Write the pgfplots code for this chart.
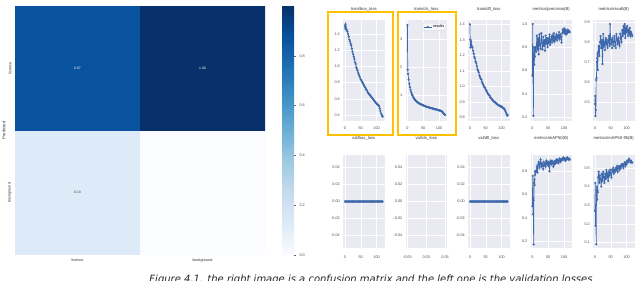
\documentclass[border=0pt]{standalone}
\usepackage{pgfplots}
\pgfplotsset{compat=1.18}
\usepackage{fontspec}
\setmainfont{Liberation Sans}
\newfontfamily\capfont{DejaVu Sans}
\definecolor{sbbg}{RGB}{234,234,242}
\definecolor{sbline}{RGB}{62,104,172}
\definecolor{ybox}{RGB}{255,192,0}
\pgfplotsset{
 /pgf/number format/assume math mode=true,
 sb/.style={
  scale only axis, width=41.5pt, anchor=north west,
  axis background/.style={fill=sbbg},
  axis line style={draw=none},
  tick style={draw=none},
  scaled ticks=false,
  grid=major, major grid style={white, line width=0.45pt},
  xtick={0,50,100}, xmin=-6, xmax=125,
  tick label style={font=\fontsize{3.8}{4}\selectfont, text=black!70, inner sep=0pt},
  xticklabel style={anchor=center, yshift=-7pt},
  yticklabel style={anchor=east, xshift=-3pt},
  title style={font=\fontsize{4.2}{5}\selectfont, text=black!80, at={(0.5,1)}, anchor=base, yshift=3.5pt, inner sep=0pt},
  every axis plot post/.append style={sbline, line width=0.7pt, mark=*, mark size=1.05pt, mark options={fill=sbline, draw=sbline, line width=0.1pt}},
  legend image code/.code={\draw[mark repeat=2,mark phase=2] plot coordinates {(0cm,0cm)(0.15cm,0cm)(0.3cm,0cm)};},
 },
 r1/.style={sb, height=101pt},
 r2/.style={sb, height=93pt, title style={yshift=5.5pt}, xticklabel style={yshift=-2pt}},
 p1/.style={yticklabel style={/pgf/number format/fixed, /pgf/number format/fixed zerofill, /pgf/number format/precision=1}},
 p2/.style={yticklabel style={/pgf/number format/fixed, /pgf/number format/fixed zerofill, /pgf/number format/precision=2}},
}
\begin{document}
\begin{tikzpicture}
\useasboundingbox (0,0) rectangle (640pt,281pt);
\clip (0,0) rectangle (640pt,281pt);

% ---------- confusion matrix ----------
\begin{axis}[at={(15pt,275pt)}, anchor=north west, scale only axis,
  width=250pt, height=249pt,
  xmin=0, xmax=2, ymin=0, ymax=2,
  axis line style={draw=none}, tick style={draw=none},
  xtick={0.5,1.5}, xticklabels={licence,background},
  ytick={0.5,1.5}, yticklabels={background,licence},
  tick label style={font=\fontsize{3.8}{4}\selectfont, text=black!80},
  yticklabel style={rotate=90, anchor=south},
  ylabel={Predicted}, ylabel style={font=\fontsize{4.2}{5}\selectfont, text=black!80, at={(axis description cs:-0.044,0.5)}, anchor=center},
  title={Confusion Matrix}, title style={font=\fontsize{4.6}{5}\selectfont, text=black!85, at={(0.5,1)}, anchor=base, yshift=0.6pt, inner sep=0pt},
  colormap={blues}{rgb255=(250,252,255) rgb255=(222,235,247) rgb255=(198,219,239) rgb255=(158,202,225) rgb255=(107,174,214) rgb255=(66,146,198) rgb255=(33,113,181) rgb255=(8,81,156) rgb255=(8,48,107)},
  point meta min=0, point meta max=1,
  colorbar,
  colorbar style={at={(parent axis.north east)}, anchor=north west, xshift=8.5pt,
    scale only axis, width=12pt, height=249pt,
    ytick={0,0.2,0.4,0.6,0.8}, ytick pos=right, tick align=outside,
    major tick length=2pt, tick style={black!60, line width=0.3pt},
    axis line style={draw=none},
    yticklabel style={font=\fontsize{3.8}{4}\selectfont, text=black!70, /pgf/number format/fixed, /pgf/number format/fixed zerofill, /pgf/number format/precision=1}},
]
\addplot[matrix plot*, mesh/cols=2, point meta=explicit] table[meta=c]{
x y c
0.5 0.5 0.13
1.5 0.5 0.00
0.5 1.5 0.87
1.5 1.5 1.00
};
\addplot[draw=none, mark=none, nodes near coords, point meta=explicit symbolic,
  nodes near coords style={white, font=\fontsize{3.4}{4}\selectfont, anchor=center}] table[meta=l]{
x y l
0.5 1.5 0.87
1.5 1.5 1.00
};
\addplot[draw=none, mark=none, nodes near coords, point meta=explicit symbolic,
  nodes near coords style={black!80, font=\fontsize{3.4}{4}\selectfont, anchor=center}] table[meta=l]{
x y l
0.5 0.5 0.13
};
\end{axis}

% ---------- row 1 ----------
\begin{axis}[r1, p1, at={(343pt,261pt)}, title={train/box\_loss}, ymin=0.326, ymax=1.573, ytick={0.4,0.6,0.8,1.0,1.2,1.4}]
\addplot coordinates {(0,1.50)(1,1.47)(2,1.52)(3,1.49)(4,1.46)(6,1.45)(8,1.43)(10,1.40)(12,1.37)(14,1.33)(16,1.31)(18,1.28)(20,1.26)(22,1.22)(24,1.18)(26,1.15)(28,1.12)(30,1.09)(32,1.05)(34,1.03)(36,0.99)(38,0.97)(40,0.95)(42,0.92)(44,0.90)(46,0.88)(48,0.86)(50,0.84)(52,0.83)(54,0.81)(56,0.80)(58,0.78)(60,0.77)(62,0.75)(64,0.74)(66,0.72)(68,0.71)(70,0.70)(72,0.68)(74,0.67)(76,0.66)(78,0.65)(80,0.64)(82,0.63)(84,0.62)(86,0.61)(88,0.60)(90,0.59)(92,0.58)(94,0.57)(96,0.56)(98,0.55)(100,0.54)(102,0.53)(104,0.53)(106,0.52)(108,0.51)(110,0.48)(112,0.45)(114,0.42)(116,0.40)(118,0.39)(119,0.38)};
\end{axis}

\begin{axis}[r1, at={(405.5pt,261pt)}, title={train/cls\_loss}, ymin=0.07, ymax=3.68, ytick={1,2,3},
  legend style={font=\fontsize{3.8}{4}\selectfont, at={(1,1)}, anchor=north east, xshift=-1pt, yshift=-3pt, fill=sbbg!40!white, draw=black!15, rounded corners=1pt, inner sep=1pt, nodes={inner sep=0.6pt}}]
\addplot coordinates {(0,3.50)(1,1.90)(2,1.75)(4,1.55)(6,1.40)(8,1.28)(10,1.18)(12,1.10)(14,1.03)(16,0.98)(18,0.93)(20,0.89)(22,0.86)(24,0.83)(26,0.80)(28,0.78)(30,0.76)(32,0.74)(34,0.72)(36,0.71)(38,0.69)(40,0.68)(42,0.67)(44,0.66)(46,0.65)(48,0.64)(50,0.63)(52,0.62)(54,0.61)(56,0.60)(58,0.59)(60,0.58)(62,0.575)(64,0.57)(66,0.56)(68,0.555)(70,0.55)(72,0.54)(74,0.535)(76,0.53)(78,0.52)(80,0.515)(82,0.51)(84,0.50)(86,0.495)(88,0.49)(90,0.485)(92,0.48)(94,0.47)(96,0.465)(98,0.46)(100,0.45)(102,0.445)(104,0.44)(106,0.43)(108,0.42)(110,0.40)(112,0.37)(114,0.34)(116,0.32)(118,0.30)(119,0.29)};
\addlegendentry{results}
\end{axis}

\begin{axis}[r1, p1, at={(468pt,261pt)}, title={train/dfl\_loss}, ymin=0.776, ymax=1.428, ytick={0.8,0.9,1.0,1.1,1.2,1.3,1.4}]
\addplot coordinates {(0,1.40)(1,1.30)(2,1.25)(3,1.27)(4,1.29)(6,1.26)(8,1.25)(10,1.23)(12,1.21)(14,1.19)(16,1.18)(18,1.16)(20,1.15)(22,1.13)(24,1.11)(26,1.10)(28,1.09)(30,1.07)(32,1.06)(34,1.05)(36,1.045)(38,1.03)(40,1.02)(42,1.01)(44,1.00)(46,0.995)(48,0.99)(50,0.98)(52,0.97)(54,0.965)(56,0.955)(58,0.95)(60,0.945)(62,0.94)(64,0.93)(66,0.925)(68,0.92)(70,0.915)(72,0.91)(74,0.905)(76,0.90)(78,0.90)(80,0.895)(82,0.89)(84,0.89)(86,0.885)(88,0.88)(90,0.88)(92,0.875)(94,0.875)(96,0.87)(98,0.87)(100,0.87)(102,0.865)(104,0.86)(106,0.86)(108,0.855)(110,0.85)(112,0.84)(114,0.83)(116,0.82)(118,0.81)(119,0.815)};
\end{axis}

\begin{axis}[r1, p1, at={(530.5pt,261pt)}, title={metrics/precision(B)}, ymin=0.166, ymax=1.034, ytick={0.2,0.4,0.6,0.8,1.0}]
\addplot coordinates {(0,0.56)(1,1.00)(2,0.55)(3,0.21)(4,0.70)(5,0.80)(6,0.65)(7,0.78)(8,0.72)(9,0.79)(10,0.80)(12,0.76)(14,0.90)(16,0.78)(18,0.88)(20,0.74)(22,0.91)(24,0.82)(26,0.79)(28,0.92)(30,0.84)(32,0.78)(34,0.89)(36,0.81)(38,0.86)(40,0.77)(42,0.90)(44,0.83)(46,0.88)(48,0.80)(50,0.87)(52,0.84)(54,0.91)(56,0.82)(58,0.86)(60,0.89)(62,0.84)(64,0.90)(66,0.86)(68,0.92)(70,0.85)(72,0.89)(74,0.87)(76,0.91)(78,0.86)(80,0.90)(82,0.88)(84,0.93)(86,0.87)(88,0.91)(90,0.89)(92,0.84)(94,0.92)(96,0.95)(98,0.93)(100,0.96)(102,0.92)(104,0.95)(106,0.91)(108,0.94)(110,0.92)(112,0.95)(114,0.93)(116,0.94)(118,0.93)};
\end{axis}

\begin{axis}[r1, p1, at={(593pt,261pt)}, title={metrics/recall(B)}, ymin=0.405, ymax=0.91, ytick={0.5,0.6,0.7,0.8,0.9}]
\addplot coordinates {(0,0.49)(1,0.53)(2,0.43)(3,0.46)(4,0.61)(5,0.62)(6,0.70)(7,0.72)(8,0.74)(9,0.66)(10,0.75)(12,0.78)(14,0.73)(16,0.80)(18,0.83)(20,0.77)(22,0.81)(24,0.69)(26,0.84)(28,0.78)(30,0.80)(32,0.76)(34,0.82)(36,0.79)(38,0.81)(40,0.77)(42,0.80)(44,0.83)(46,0.78)(48,0.89)(50,0.79)(52,0.81)(54,0.77)(56,0.82)(58,0.80)(60,0.78)(62,0.83)(64,0.80)(66,0.77)(68,0.84)(70,0.81)(72,0.79)(74,0.82)(76,0.80)(78,0.78)(80,0.84)(82,0.82)(84,0.80)(86,0.86)(88,0.83)(90,0.88)(92,0.84)(94,0.89)(96,0.82)(98,0.87)(100,0.85)(102,0.88)(104,0.83)(106,0.86)(108,0.84)(110,0.87)(112,0.83)(114,0.85)(116,0.84)(118,0.83)};
\end{axis}

% ---------- row 2 ----------
\begin{axis}[r2, p2, at={(343pt,126pt)}, title={val/box\_loss}, ymin=-0.055, ymax=0.055, ytick={-0.04,-0.02,0,0.02,0.04}]
\addplot coordinates {(0,0)(2,0)(4,0)(6,0)(8,0)(10,0)(12,0)(14,0)(16,0)(18,0)(20,0)(22,0)(24,0)(26,0)(28,0)(30,0)(32,0)(34,0)(36,0)(38,0)(40,0)(42,0)(44,0)(46,0)(48,0)(50,0)(52,0)(54,0)(56,0)(58,0)(60,0)(62,0)(64,0)(66,0)(68,0)(70,0)(72,0)(74,0)(76,0)(78,0)(80,0)(82,0)(84,0)(86,0)(88,0)(90,0)(92,0)(94,0)(96,0)(98,0)(100,0)(102,0)(104,0)(106,0)(108,0)(110,0)(112,0)(114,0)(116,0)(118,0)(119,0)};
\end{axis}

\begin{axis}[r2, p2, at={(405.5pt,126pt)}, title={val/cls\_loss}, xmin=-0.055, xmax=0.055, xtick={-0.05,0,0.05},
  xticklabel style={/pgf/number format/fixed, /pgf/number format/fixed zerofill, /pgf/number format/precision=2},
  ymin=-0.055, ymax=0.055, ytick={-0.04,-0.02,0,0.02,0.04}]
\end{axis}

\begin{axis}[r2, p2, at={(468pt,126pt)}, title={val/dfl\_loss}, ymin=-0.055, ymax=0.055, ytick={-0.04,-0.02,0,0.02,0.04}]
\addplot coordinates {(0,0)(2,0)(4,0)(6,0)(8,0)(10,0)(12,0)(14,0)(16,0)(18,0)(20,0)(22,0)(24,0)(26,0)(28,0)(30,0)(32,0)(34,0)(36,0)(38,0)(40,0)(42,0)(44,0)(46,0)(48,0)(50,0)(52,0)(54,0)(56,0)(58,0)(60,0)(62,0)(64,0)(66,0)(68,0)(70,0)(72,0)(74,0)(76,0)(78,0)(80,0)(82,0)(84,0)(86,0)(88,0)(90,0)(92,0)(94,0)(96,0)(98,0)(100,0)(102,0)(104,0)(106,0)(108,0)(110,0)(112,0)(114,0)(116,0)(118,0)(119,0)};
\end{axis}

\begin{axis}[r2, p1, at={(530.5pt,126pt)}, title={metrics/mAP50(B)}, ymin=0.14, ymax=0.94, ytick={0.2,0.4,0.6,0.8}]
\addplot coordinates {(0,0.50)(1,0.76)(2,0.43)(3,0.55)(4,0.17)(5,0.70)(6,0.73)(7,0.68)(8,0.77)(9,0.80)(10,0.79)(12,0.80)(14,0.84)(16,0.79)(18,0.86)(20,0.88)(22,0.83)(24,0.86)(26,0.90)(28,0.84)(30,0.87)(32,0.85)(34,0.82)(36,0.88)(38,0.85)(40,0.87)(42,0.84)(44,0.89)(46,0.86)(48,0.88)(50,0.85)(52,0.88)(54,0.80)(56,0.87)(58,0.89)(60,0.86)(62,0.89)(64,0.87)(66,0.84)(68,0.88)(70,0.86)(72,0.89)(74,0.87)(76,0.90)(78,0.88)(80,0.90)(82,0.87)(84,0.89)(86,0.91)(88,0.88)(90,0.90)(92,0.89)(94,0.91)(96,0.90)(98,0.92)(100,0.90)(102,0.91)(104,0.89)(106,0.91)(108,0.90)(110,0.92)(112,0.91)(114,0.90)(116,0.91)(118,0.90)};
\end{axis}

\begin{axis}[r2, p1, at={(593pt,126pt)}, title={metrics/mAP50-95(B)}, ymin=0.07, ymax=0.57, ytick={0.1,0.2,0.3,0.4,0.5}]
\addplot coordinates {(0,0.27)(1,0.42)(2,0.19)(3,0.30)(4,0.09)(5,0.38)(6,0.40)(7,0.33)(8,0.38)(9,0.37)(10,0.45)(12,0.48)(14,0.42)(16,0.46)(18,0.44)(20,0.40)(22,0.47)(24,0.43)(26,0.48)(28,0.45)(30,0.42)(32,0.47)(34,0.44)(36,0.49)(38,0.45)(40,0.47)(42,0.43)(44,0.48)(46,0.46)(48,0.49)(50,0.47)(52,0.45)(54,0.49)(56,0.48)(58,0.50)(60,0.47)(62,0.49)(64,0.48)(66,0.50)(68,0.49)(70,0.51)(72,0.48)(74,0.50)(76,0.51)(78,0.49)(80,0.51)(82,0.50)(84,0.52)(86,0.51)(88,0.52)(90,0.50)(92,0.52)(94,0.53)(96,0.51)(98,0.53)(100,0.52)(102,0.54)(104,0.53)(106,0.54)(108,0.55)(110,0.54)(112,0.53)(114,0.54)(116,0.53)(118,0.53)};
\end{axis}

% highlight boxes
\draw[ybox, line width=1.2pt] (328pt,146pt) rectangle (393pt,269pt);
\draw[ybox, line width=1.2pt] (398pt,146pt) rectangle (456pt,269pt);

% caption
\node[anchor=base, font=\capfont\fontsize{10}{12}\selectfont\itshape, text=black!85, inner sep=0pt] at (371pt,-2pt)
  {Figure 4.1. the right image is a confusion matrix and the left one is the validation losses};
\end{tikzpicture}
\end{document}
